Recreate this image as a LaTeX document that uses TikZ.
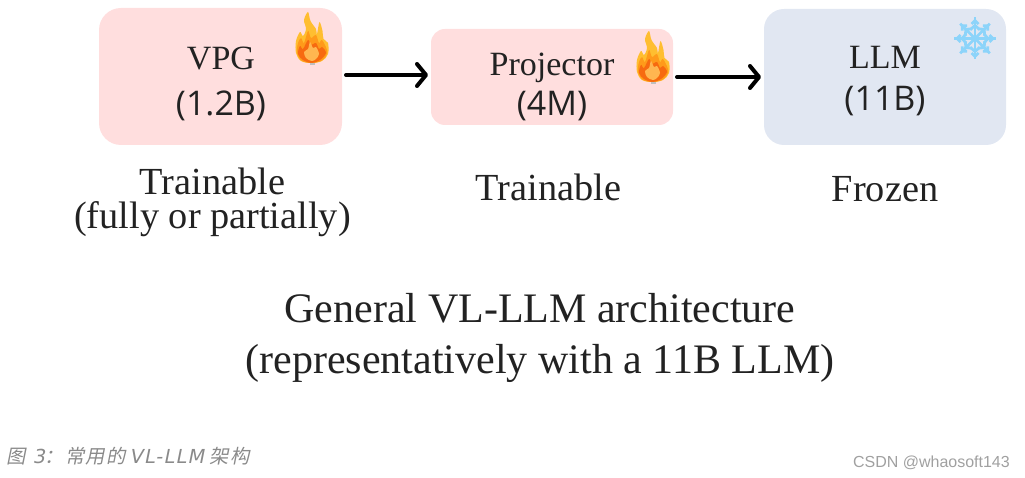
\documentclass[tikz,border=0pt]{standalone}
\usepackage{fontspec}
\setmainfont{Liberation Serif}
\newfontfamily\numfont{Open Sans}
\newfontfamily\capfont[LetterSpace=6]{DejaVu Sans}
\newfontfamily\cjkcap[FakeSlant=0.2,LetterSpace=6]{Noto Sans CJK SC}
\newfontfamily\wmfont{Liberation Sans}
\usetikzlibrary{arrows.meta}
\definecolor{boxred}{HTML}{FFDEDE}
\definecolor{boxblue}{HTML}{E1E7F2}
\definecolor{inkdark}{HTML}{222222}
\definecolor{snow}{HTML}{8CD4FA}
\definecolor{capgray}{HTML}{8A8A8A}
\definecolor{wmgray}{HTML}{A0A0A0}
\definecolor{flameY}{HTML}{FFBE30}
\definecolor{flameO}{HTML}{FF9A1A}
\definecolor{flameR}{HTML}{F76A10}
\definecolor{flameL}{HTML}{FFB650}
\tikzset{
  x=1pt,y=-1pt,
  boxbase/.style={rounded corners=#1,inner sep=0pt,outer sep=0pt,anchor=north west},
  flow/.style={draw=black,line width=4pt,-{Straight Barb[length=9pt,width=22pt,line width=4pt,round]},line cap=round,shorten <=4pt,shorten >=3pt},
  boxname/.style={text=inkdark,anchor=base,font=\fontsize{34}{34}\selectfont},
  boxnum/.style={text=inkdark,anchor=base,font=\fontsize{34}{34}\selectfont\numfont},
  note/.style={text=inkdark,anchor=base,font=\fontsize{38.3}{38.3}\selectfont},
  bignote/.style={text=inkdark,anchor=base,font=\fontsize{42}{42}\selectfont},
  flake/.style={draw=snow,line width=2.8pt,line cap=butt},
  flame/.pic={
    \fill[flameY]
      plot[smooth cycle,tension=.55] coordinates {(16.7,51)(6,49)(1,41)(1,29)(5,20)(8,24)(11,17)(9,8)(13,0)(15.5,9)(21,17)(22,22)(24.5,10)(27.5,19)(28.5,27)(33,31)(33,42)(27,49)};
    \fill[flameO]
      plot[smooth cycle,tension=.55] coordinates {(16.7,51)(7,49)(2,41)(3,31)(6,26)(9,31)(13,19)(16,26)(21,23)(24,31)(27,28)(32,38)(31,44)(26,49)};
    \fill[flameR]
      plot[smooth cycle,tension=.55] coordinates {(16.7,51)(8,48)(3,42)(5,34)(8,37)(13,28)(16,33)(21,31)(24,37)(27,35)(31,41)(25,48)};
    \fill[flameL]
      plot[smooth cycle,tension=.55] coordinates {(16.7,49)(11,46)(9,40)(13,37)(15,30)(18,36)(21,35)(24,42)(21,47)};
    \fill[gray!50] (15,51) rectangle (20,53);
  }
}
\begin{document}
\begin{tikzpicture}
\useasboundingbox (0,0) rectangle (1025,478);
\node[boxbase=22pt,fill=boxred,minimum width=243pt,minimum height=137pt] (vpg) at (99,8) {};
\node[boxbase=14pt,fill=boxred,minimum width=242pt,minimum height=96pt] (proj) at (431,29) {};
\node[boxbase=20pt,fill=boxblue,minimum width=242pt,minimum height=136pt] (llm) at (764,9) {};
\node[boxname] (t1) at (221,70) {VPG};
\node[boxnum] (t2) at (221,116) {(1.2B)};
\node[boxname] (t3) at (552,76) {Projector};
\node[boxnum] (t4) at (552,116) {(4M)};
\node[boxname] (t5) at (885,69) {LLM};
\node[boxnum] (t6) at (885,111) {(11B)};
\draw[flow] ([yshift=1.5pt]vpg.east) -- ([yshift=2pt]proj.west);
\draw[flow] (proj.east) -- (llm.west);
\pic at (295,12) {flame};
\pic at (636,31) {flame};
\begin{scope}[shift={(975,38.5)}]
\foreach \a in {0,45,...,315}{
  \begin{scope}[rotate=\a]
    \draw[flake] (0,0) -- (21,0);
    \draw[flake] (9,-4.5) -- (13,0) -- (9,4.5);
    \draw[flake] (14.5,-3.5) -- (18,0) -- (14.5,3.5);
  \end{scope}
}
\end{scope}
\node[note] (n1) at (212.5,195) {Trainable};
\node[note] (n2) at (212.5,229) {(fully or partially)};
\node[note] (n3) at (548.5,201) {Trainable};
\node[note] (n4) at (885,202) {Frozen};
\node[bignote] (n5) at (540,322) {General VL-LLM architecture};
\node[bignote] (n6) at (540,373) {(representatively with a 11B LLM)};
\node[anchor=base west,inner sep=0pt,text=capgray,font=\fontsize{19.3}{19.3}\selectfont] (cap) at (6,463) {\cjkcap 图\hspace{7pt}\capfont\addfontfeature{FakeSlant=0.2}3\cjkcap：常用的\hspace{4pt}\capfont\addfontfeature{FakeSlant=0.2}VL-LLM\hspace{6pt}\cjkcap 架构};
\node[anchor=base east,inner sep=0pt,text=wmgray,font=\fontsize{16}{16}\selectfont\wmfont] (wm) at (1010,467) {CSDN @whaosoft143};
\end{tikzpicture}
\end{document}
